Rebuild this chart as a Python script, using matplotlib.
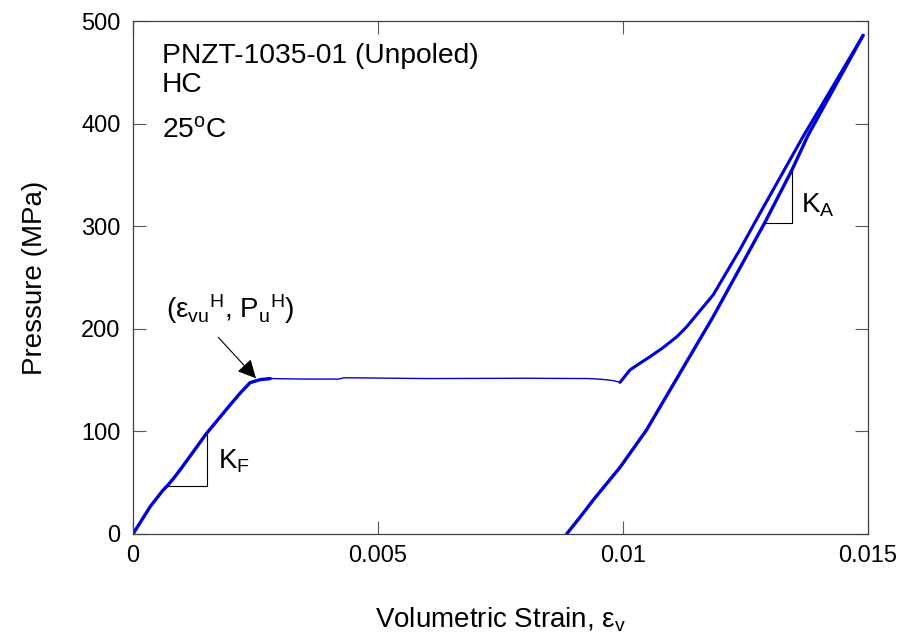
import matplotlib
matplotlib.use('Agg')
import matplotlib.pyplot as plt

plt.rcParams['font.family'] = ['Liberation Sans', 'DejaVu Sans']
plt.rcParams['mathtext.fontset'] = 'custom'
plt.rcParams['mathtext.rm'] = 'Liberation Sans'
plt.rcParams['mathtext.it'] = 'Liberation Sans:italic'
plt.rcParams['mathtext.bf'] = 'Liberation Sans:bold'

# loading: linear rise up to the plateau
rise_strain = [0, 0.00035, 0.0006, 0.00072, 0.00085, 0.0010, 0.0015, 0.00198, 0.0022, 0.00239, 0.0026, 0.0028]
rise_p = [0, 26.6, 42, 48.0, 55.5, 65, 98, 125.7, 138, 147.5, 150.5, 151.5]

# plateau (phase transition) up to the dip near 0.01
plat_strain = [0.0028, 0.0035, 0.0042, 0.0043, 0.006, 0.008, 0.0093, 0.00956, 0.0098, 0.00994]
plat_p = [151.5, 151.0, 151.0, 152.3, 151.5, 151.8, 151.5, 150.8, 149.5, 147.8]

# loading after the plateau up to the peak
post_strain = [0.00994, 0.01014, 0.0103, 0.01055, 0.0108, 0.0111, 0.0113, 0.0115, 0.01184,
               0.01239, 0.0128, 0.01367, 0.0149]
post_p = [147.8, 159.8, 165, 172.8, 181, 192.3, 202, 213.5, 233,
          277.5, 313, 387, 486]

# unloading from the peak
unl_strain = [0.0149, 0.01378, 0.01345, 0.0129, 0.01184, 0.01116, 0.01048,
              0.00994, 0.00939, 0.00915, 0.00885]
unl_p = [486, 389, 355, 304, 211.8, 156.6, 101.4, 65, 33, 18, 0]

# slope triangles
kf_x = [0.00072, 0.00152, 0.00152]
kf_y = [47, 47, 96.5]
ka_x = [0.0129, 0.01345, 0.01345]
ka_y = [303, 303, 353]

blue = '#0000d8'

fig = plt.figure(figsize=(9.01, 6.41), dpi=100)
ax = fig.add_axes([133/901, 1-534/641, (868-133)/901, (534-21)/641])

ax.plot(rise_strain, rise_p, color=blue, lw=2.4, solid_capstyle='round')
ax.plot(plat_strain, plat_p, color=blue, lw=1.0)
ax.plot(post_strain, post_p, color=blue, lw=2.2, solid_capstyle='round')
ax.plot(unl_strain, unl_p, color=blue, lw=2.4, solid_capstyle='round')

ax.plot(kf_x, kf_y, color='black', lw=0.8)
ax.plot(ka_x, ka_y, color='black', lw=0.8)

ax.text(0.00173, 63.4, r'K$_{\rm F}$', fontsize=20, va='baseline')
ax.text(0.01363, 312.9, r'K$_{\rm A}$', fontsize=20, va='baseline')

ax.text(0.00059, 459, 'PNZT-1035-01 (Unpoled)', fontsize=20.3, va='baseline')
ax.text(0.00059, 431, 'HC', fontsize=20.3, va='baseline')
ax.text(0.00059, 386, r'25$^{\rm o}$C', fontsize=20.3, va='baseline')

ax.annotate(r'($\mathrm{ε}_{\rm vu}{}^{\rm H}$, P$_{\rm u}{}^{\rm H}$)',
            xy=(0.00251, 151.8), xytext=(0.00067, 210.5),
            fontsize=20, va='baseline')
ax.annotate('', xy=(0.00251, 151.8), xytext=(0.00174, 191.7),
            arrowprops=dict(arrowstyle='-|>', color='black', lw=0.8,
                            mutation_scale=28, shrinkA=0, shrinkB=0))

ax.set_xlim(0, 0.015)
ax.set_ylim(0, 500)
ax.set_xticks([0, 0.005, 0.01, 0.015])
ax.set_xticklabels(['0', '0.005', '0.01', '0.015'])
ax.set_yticks([0, 100, 200, 300, 400, 500])

ax.tick_params(direction='in', length=9.5, width=0.8, color='0.35',
               top=True, right=True, labelsize=17)
ax.tick_params(axis='x', pad=8)
ax.tick_params(axis='y', pad=9)
for s in ax.spines.values():
    s.set_color('0.25')
    s.set_linewidth(0.9)

ax.set_xlabel(r'Volumetric Strain, $\mathrm{ε}_{\rm v}$', fontsize=20, labelpad=28)
ax.set_ylabel('Pressure (MPa)', fontsize=20, labelpad=24)

fig.savefig('out.png', dpi=100)
